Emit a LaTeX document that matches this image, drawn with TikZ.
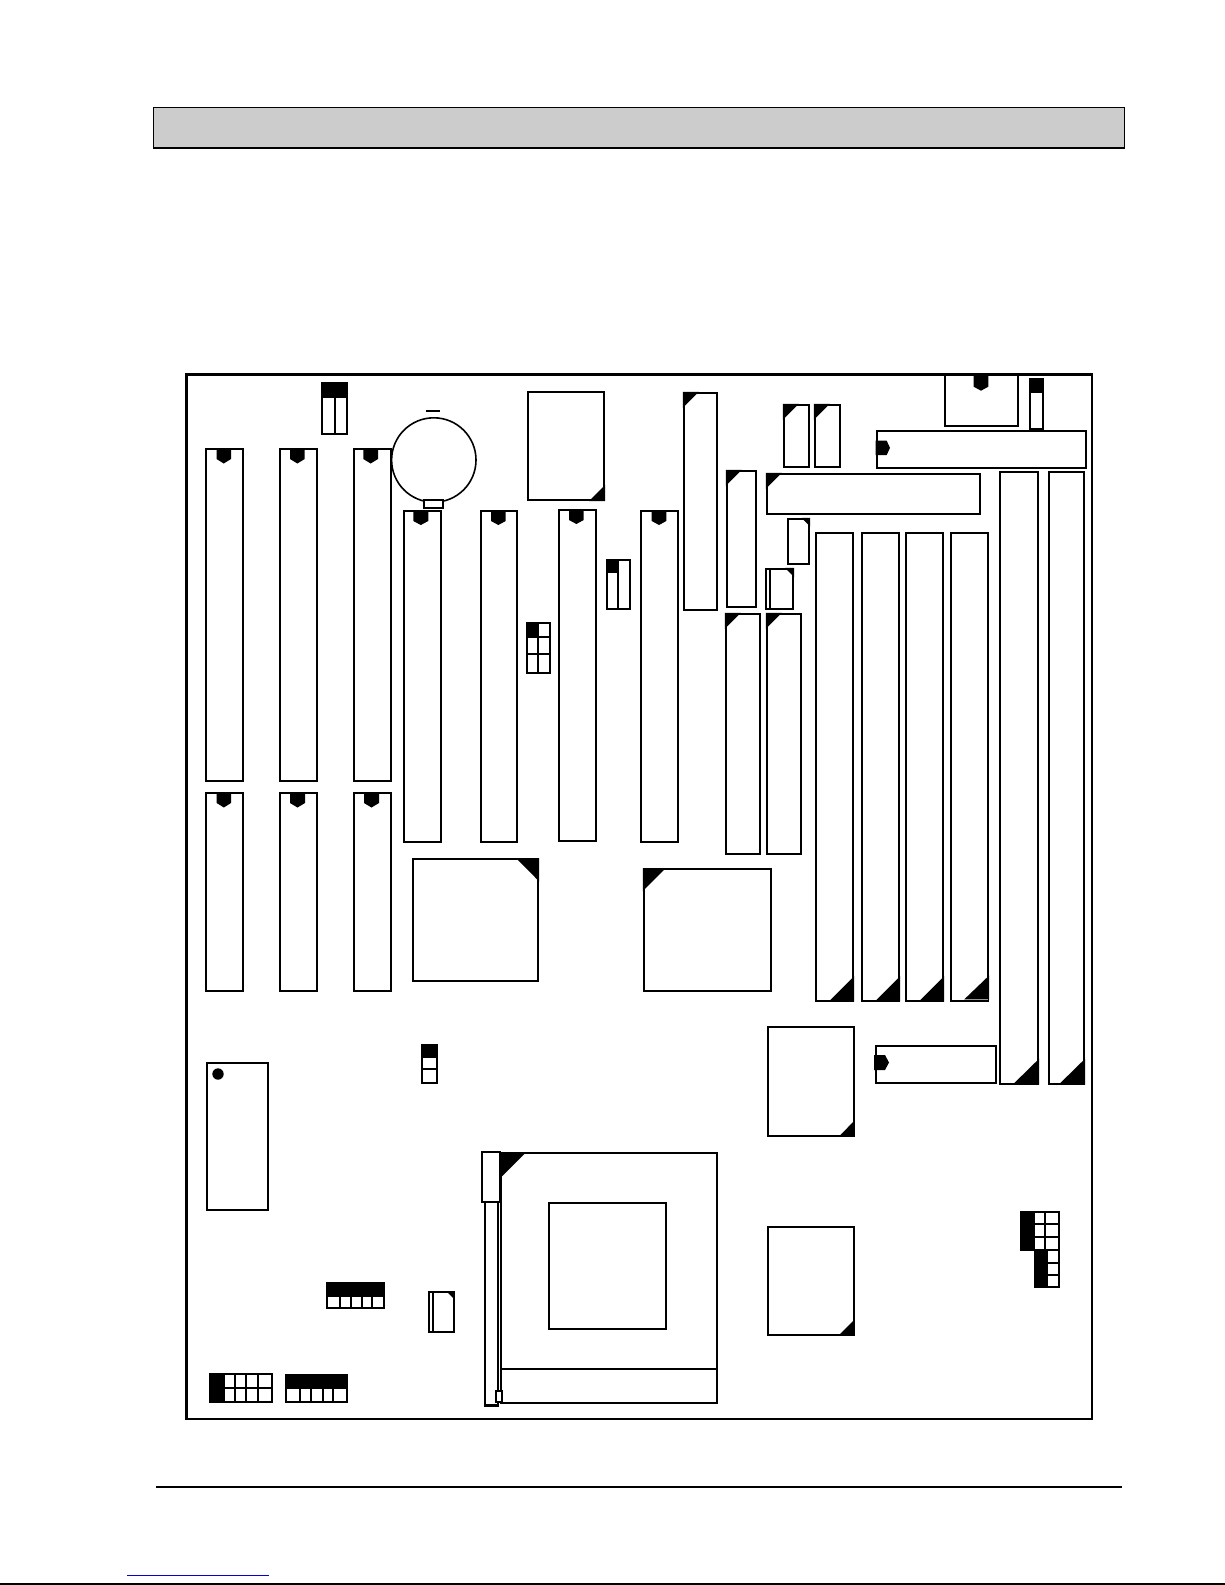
\documentclass[tikz,border=0pt]{standalone}
\tikzset{
  part/.style={draw=black,line width=1.9pt,fill=white,line join=miter},
  solid black/.style={fill=black,draw=none},
  frame/.style={draw=black,line width=2.6pt},
  rule/.style={draw=black,line width=1.1pt},
  wire/.style={draw=black,line width=1.8pt}
}
% box: x1,y1,x2,y2
\newcommand{\pbox}[4]{\draw[part] (#1,#2) rectangle (#3,#4);}
% downward notch: left x, right x, top y, shoulder y, tip y
\newcommand{\dnotch}[5]{\fill[black] (#1,#3) -- (#2,#3) -- (#2,#4) -- ({(#1+#2)/2},#5) -- (#1,#4) -- cycle;}
% sideways notch: left x, shoulder x, tip x, top y, bottom y
\newcommand{\rnotch}[5]{\fill[black] (#1,#4) -- (#2,#4) -- (#3,{(#4+#5)/2}) -- (#2,#5) -- (#1,#5) -- cycle;}
% corner triangles: corner x, y, dx, dy
\newcommand{\ctri}[4]{\fill[black] (#1,#2) -- ++(#3,0) -- ++(-#3,#4) -- cycle;}
\newcommand{\btri}[4]{\fill[black] (#1,#2) -- ++(0,-#4) -- ++(-#3,#4) -- cycle;}
\begin{document}
\begin{tikzpicture}[x=1pt,y=-1pt]
\useasboundingbox (0,0) rectangle (1225,1585);
\fill[white] (0,0) rectangle (1225,1585);
% header bar
\fill[black!20] (153.6,107.3) rectangle (1124.7,148);
\draw[black,line width=1.4pt] (153.6,148) -- (153.6,107.3) -- (1124.7,107.3) -- (1124.7,148);
\draw[black,line width=2.2pt] (153,148) -- (1125.3,148);
% footer
\draw[rule] (156,1487) -- (1122,1487);
\draw[blue!85!black,line width=1pt] (127,1575) -- (269,1575);
\draw[rule] (0,1584) -- (1225,1584);

% left SIMM rows
\pbox{205.7}{449}{243.3}{781}\dnotch{216.5}{231}{449}{459}{463.5}
\pbox{279.7}{449}{317.3}{781}\dnotch{290}{304.7}{449}{459}{463.5}
\pbox{353.7}{449}{391.3}{781}\dnotch{363.3}{378}{449}{459}{463.5}
\pbox{205.7}{793.3}{243.3}{990.7}\dnotch{216.7}{231}{793.3}{803}{807.5}
\pbox{279.7}{793.3}{317.3}{990.7}\dnotch{290}{305}{793.3}{803}{807.5}
\pbox{353.7}{793.3}{391.3}{990.7}\dnotch{364}{379}{793.3}{803}{807.5}

% battery
\draw[wire] (426,411) -- (440.3,411);
\draw[black,fill=white,line width=1.6pt] (433.8,460) circle (42.2);
\pbox{423.7}{500}{442.7}{508.3}

% middle SIMMs
\pbox{403.7}{510.7}{441}{841.7}\dnotch{413.3}{428.3}{510.7}{521}{525}
\pbox{480.7}{510.7}{517.3}{841.7}\dnotch{491}{505.7}{510.7}{521}{525}
\pbox{558.7}{510}{596.3}{841}\dnotch{569}{583.7}{510}{520}{524}
\pbox{640.7}{510.7}{678.3}{841.7}\dnotch{651.7}{666.3}{510.7}{521}{525}

% chip top centre
\pbox{527.7}{391.7}{604.3}{500}
\fill[black] (605,485) -- (605,501) -- (589,501) -- cycle;

% jumpers top
\pbox{321.7}{383.3}{347.3}{434}
\fill[black] (320.8,382.4) rectangle (348.2,397.7);
\draw[wire] (335,397.7) -- (335,434);
\pbox{606.7}{559.7}{630.3}{609}
\fill[black] (605.8,558.8) rectangle (618,572.7);
\draw[wire] (618,559.7) -- (618,609);
\pbox{526.7}{622.7}{550}{673}
\fill[black] (525.8,621.8) rectangle (538.3,636.7);
\draw[wire] (538.3,622.7) -- (538.3,673) (526.7,636.7) -- (550,636.7) (526.7,654) -- (550,654);

% big chips
\pbox{412.7}{859}{538.3}{980.7}
\fill[black] (516,858) -- (539.2,858) -- (539.2,881.5) -- cycle;
\pbox{643.7}{869}{771.3}{990.7}
\ctri{642.8}{868}{23}{23}

% chips right of centre
\pbox{683.7}{392.7}{717}{610}
\draw[line width=2.4pt] (683,610) -- (717.8,610);
\ctri{682.8}{391.8}{16}{16}
\pbox{726.7}{470.7}{756}{607}\ctri{725.8}{469.8}{16}{16}
\pbox{783.7}{404.7}{809}{467}\ctri{782.8}{403.8}{16}{16}
\pbox{814.7}{404.7}{840}{467}\ctri{813.8}{403.8}{16}{16}
\pbox{766.7}{474}{980.3}{514}\ctri{765.8}{472.8}{16}{16}
\pbox{876.7}{430.7}{1086.3}{468}\rnotch{875.5}{886.7}{890}{440.7}{455}
\pbox{725.7}{613.7}{760.3}{854}\ctri{724.8}{612.8}{16}{16}
\pbox{766.7}{613.7}{801}{854}\ctri{765.8}{612.8}{16}{16}
\pbox{787.7}{518.7}{809.3}{564}
\fill[black] (801.5,517.8) -- (810.2,517.8) -- (810.2,526.5) -- cycle;
\pbox{765.7}{568.7}{793.3}{609.3}
\draw[wire] (770,568.7) -- (770,609.3);
\fill[black] (785,567.8) -- (794.2,567.8) -- (794.2,577) -- cycle;

% top right socket and jumper
\draw[part] (945,374.7) -- (945,426) -- (1018.3,426) -- (1018.3,374.7);
\dnotch{973.7}{988.3}{374.7}{386.7}{390.7}
\pbox{1029.7}{379.3}{1043.3}{429.3}
\fill[black] (1028.8,378.4) rectangle (1044.2,393.3);

% expansion slots
\pbox{816}{533}{853.3}{1000.7}\btri{854.2}{1001.6}{25.5}{25.5}
\pbox{861.7}{533}{899.3}{1000.7}\btri{900.2}{1001.6}{25.5}{25.5}
\pbox{905.7}{533}{943.3}{1000.7}\btri{944.2}{1001.6}{25.5}{25.5}
\pbox{950.7}{533}{988.3}{1000.7}\btri{989.2}{999.4}{25}{24}
\draw[black!40,line width=.7pt] (964.5,999.6) -- (987.5,999.6);
\pbox{1000}{471.7}{1038.3}{1083.7}\btri{1039.2}{1084.6}{26.5}{26}
\pbox{1049}{471.7}{1084.3}{1083.7}\btri{1085.2}{1084.6}{26.5}{26}

% lower right chips and bar
\pbox{875.7}{1046}{996.3}{1083}\rnotch{874}{885}{889}{1055}{1070}
\pbox{767.7}{1026.7}{854}{1135.7}
\draw[line width=2.4pt] (767,1135.7) -- (854.8,1135.7);
\btri{854.9}{1136.6}{16}{16.5}
\pbox{767.7}{1226.7}{854}{1335}
\btri{853.8}{1335.9}{15.5}{15.5}

% BIOS chip
\pbox{206.7}{1062.7}{268.3}{1210}
\fill[black] (218,1074) circle (5.7);

% small vertical jumper
\pbox{422.3}{1045}{436.7}{1083.3}
\fill[black] (421.4,1044.1) rectangle (437.6,1058.3);
\draw[wire] (422.3,1069) -- (436.7,1069);

% CPU socket
\pbox{500.7}{1153}{717}{1403.3}
\draw[wire] (500.7,1368.7) -- (717,1368.7);
\pbox{549}{1202.7}{666}{1329}
\ctri{499.8}{1152.1}{26.5}{26.5}
\pbox{485}{1202}{498.3}{1405.3}
\draw[line width=2.4pt] (484.2,1405.5) -- (499,1405.5);
\pbox{481.7}{1151.7}{500}{1202}
\pbox{496}{1391}{502}{1401.7}

% bottom jumpers
\pbox{327.3}{1283.3}{383.7}{1308.3}
\fill[black] (326.4,1282.4) rectangle (384.6,1296.7);
\draw[wire] (340,1296.7) -- (340,1308.3) (351.3,1296.7) -- (351.3,1308.3) (362,1296.7) -- (362,1308.3) (371.7,1296.7) -- (371.7,1308.3);
\pbox{429.3}{1292.3}{453.7}{1331.7}
\draw[wire] (432.6,1292.3) -- (432.6,1331.7);
\fill[black] (446.5,1291.4) -- (454.6,1291.4) -- (454.6,1299.5) -- cycle;
\pbox{210.3}{1374.3}{272.3}{1401.7}
\fill[black] (209.4,1373.4) rectangle (224.7,1402.6);
\draw[wire] (224.7,1388.3) -- (272.3,1388.3) (235,1374.3) -- (235,1401.7) (246.3,1374.3) -- (246.3,1401.7) (258.3,1374.3) -- (258.3,1401.7);
\pbox{286.3}{1375.3}{346.7}{1401.7}
\fill[black] (285.4,1374.4) rectangle (347.6,1389.3);
\draw[wire] (300,1389.3) -- (300,1401.7) (310.7,1389.3) -- (310.7,1401.7) (322.7,1389.3) -- (322.7,1401.7) (333.3,1389.3) -- (333.3,1401.7);

% right-hand jumpers
\pbox{1021.3}{1212}{1058.7}{1250}
\draw[wire] (1035,1224.3) -- (1058.7,1224.3) (1035,1237.3) -- (1058.7,1237.3) (1045,1212) -- (1045,1250);
\fill[black] (1021.3,1211) rectangle (1035.3,1237.3);
\fill[black] (1020,1237.3) rectangle (1035.3,1250.8);
\pbox{1035}{1250}{1059.3}{1287.3}
\draw[wire] (1048,1262.7) -- (1059.3,1262.7) (1048,1275) -- (1059.3,1275);
\fill[black] (1035.5,1249.3) rectangle (1048.3,1275);
\fill[black] (1034.3,1275) rectangle (1048.3,1288);

% board frame, drawn last so nothing cuts it
\draw[frame] (186.3,374.7) rectangle (1092,1419);
\end{tikzpicture}
\end{document}
